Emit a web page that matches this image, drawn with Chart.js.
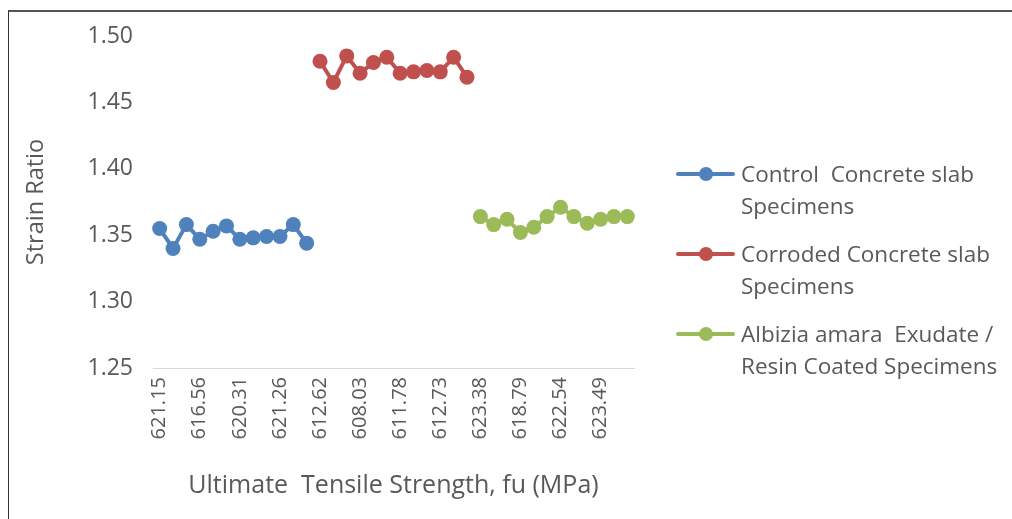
<!DOCTYPE html>
<html>
<head>
<meta charset="utf-8">
<script src="https://cdn.jsdelivr.net/npm/chart.js@4"></script>
<style>
  html, body { margin: 0; padding: 0; background: #fff; }
  #wrap { position: relative; width: 1012px; height: 519px; overflow: hidden; }
  #frame { position: absolute; left: 8px; top: 10px; right: 0; bottom: 0;
           border-top: 2px solid #555; border-left: 1px solid #333; }
  #c { position: absolute; left: 0; top: 0; }
  #legend { position: absolute; left: 672px; top: 158px; font-family: "Open Sans", sans-serif;
            font-size: 22.5px; color: #595959; line-height: 32px; }
  .item { position: relative; padding-left: 69px; height: 64px; margin-bottom: 16px; width: 300px; }
  .line { position: absolute; left: 4px; top: 14px; width: 59px; height: 4px; border-radius: 2px; }
  .dot { position: absolute; left: 27px; top: 9px; width: 14px; height: 14px; border-radius: 50%; }
</style>
</head>
<body>
<div id="wrap">
  <div id="frame"></div>
  <canvas id="c" width="1012" height="519"></canvas>
  <div id="legend"></div>
</div>
<script>
// x categories (every third one is printed on the axis)
const labels = [
  "621.15","618.40","619.72","616.56","620.08","617.93","620.31","619.05","621.64","621.26","618.87","620.49",
  "612.62","609.85","610.37","608.03","611.20","609.48","611.78","610.92","612.15","612.73","610.06","611.51",
  "623.38","621.97","620.45","618.79","622.10","621.36","622.54","620.88","623.02","623.49","622.71","621.84"
];

const controlSlab = [1.355,1.340,1.358,1.347,1.353,1.357,1.347,1.348,1.349,1.349,1.358,1.344];
const corrodedSlab = [1.481,1.465,1.485,1.472,1.480,1.484,1.472,1.473,1.474,1.473,1.484,1.469];
const coatedSlab = [1.364,1.358,1.362,1.352,1.356,1.364,1.371,1.364,1.359,1.362,1.364,1.364];

const seriesNames = [
  ["Control  Concrete slab", "Specimens"],
  ["Corroded Concrete slab", "Specimens"],
  ["Albizia amara  Exudate /", "Resin Coated Specimens"]
];
const colors = ["#4F81BD", "#C0504D", "#9BBB59"];

const blank = n => Array(n).fill(null);
const series = [
  controlSlab.concat(blank(24)),
  blank(12).concat(corrodedSlab, blank(12)),
  blank(24).concat(coatedSlab)
];

const textColor = "#595959";
const font = "'Open Sans', sans-serif";

const ctx = document.getElementById("c").getContext("2d");
const chart = new Chart(ctx, {
  type: "line",
  data: {
    labels,
    datasets: series.map((d, i) => ({
      label: seriesNames[i].join(" "),
      data: d,
      borderColor: colors[i],
      backgroundColor: colors[i],
      borderWidth: 4,
      pointRadius: 7.5,
      pointHoverRadius: 7.5,
      pointBorderWidth: 0,
      tension: 0,
      spanGaps: false
    }))
  },
  options: {
    responsive: false,
    animation: false,
    events: [],
    layout: { padding: { left: 14, top: 36, right: 378, bottom: 14 } },
    plugins: { legend: { display: false }, tooltip: { enabled: false } },
    scales: {
      x: {
        offset: true,
        afterFit: s => { s.height = 137; },
        grid: { display: false, drawTicks: false, offset: true },
        border: { display: true, color: "#d9d9d9", width: 1 },
        ticks: {
          autoSkip: false, minRotation: 90, maxRotation: 90, padding: 9,
          color: textColor, font: { family: font, size: 20 },
          callback: (v, i) => i % 3 === 0 ? labels[i] : ""
        },
        title: {
          display: true, text: "Ultimate  Tensile Strength, fu (MPa)",
          color: textColor, font: { family: font, size: 25 }, padding: { top: 0, bottom: 4 }
        }
      },
      y: {
        min: 1.25, max: 1.50,
        afterFit: s => { s.width = 139; },
        grid: { display: false, drawTicks: false },
        border: { display: false },
        ticks: {
          stepSize: 0.05, padding: 20,
          color: textColor, font: { family: font, size: 23 },
          callback: v => v.toFixed(2)
        },
        title: {
          display: true, text: "Strain Ratio",
          color: textColor, font: { family: font, size: 23.5 }, padding: { top: 8, bottom: 0 }
        }
      }
    }
  }
});

// legend with wrapped names, built from the chart's datasets
const legend = document.getElementById("legend");
chart.data.datasets.forEach((ds, i) => {
  const item = document.createElement("div");
  item.className = "item";
  item.innerHTML = '<div class="line" style="background:' + ds.borderColor + '"></div>' +
    '<div class="dot" style="background:' + ds.borderColor + '"></div>' +
    seriesNames[i].map(t => '<div style="white-space:pre">' + t + '</div>').join("");
  legend.appendChild(item);
});
</script>
</body>
</html>
